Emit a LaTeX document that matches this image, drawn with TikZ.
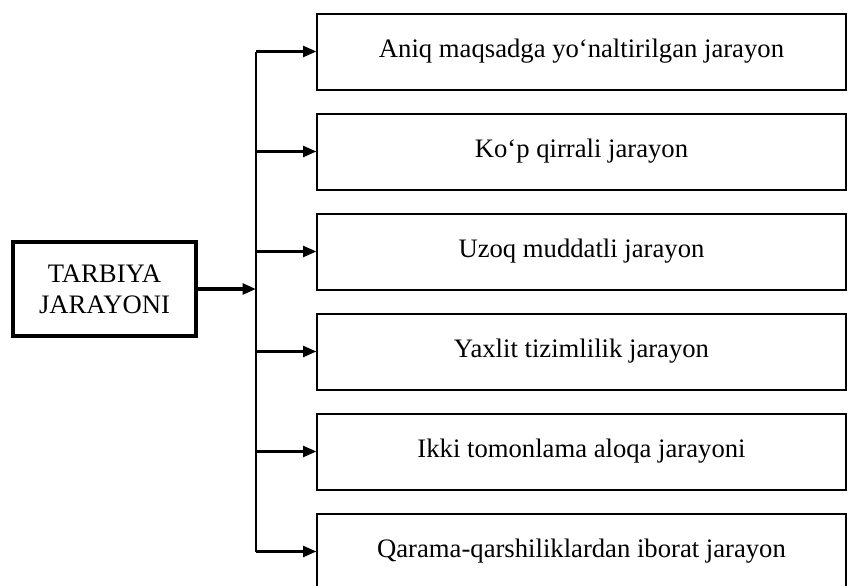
\documentclass[tikz,border=0pt]{standalone}
\usepackage{fontspec}
\setmainfont{Liberation Serif}
\usetikzlibrary{arrows.meta}
\tikzset{gbox/.style={
    rectangle,
    draw,
    line width=1.5pt,
    align=center,
    font=\fontsize{20}{23}\selectfont
  },
  itembox/.style={gbox,minimum width=396pt,minimum height=57pt},
  mainbox/.style={gbox,line width=3pt,minimum width=137pt,minimum height=71pt},
  branch/.style={line width=2.2pt,-{Triangle[length=10pt,width=8pt]}},
}

\begin{document}
\begin{tikzpicture}[x=0.75pt,y=-0.75pt]
  \useasboundingbox (0,0) rectangle (847,586);
  \matrix[row sep=16.5pt,inner sep=0pt,ampersand replacement=\&] (col) at (581.5,301.5) {
    \node [itembox] (b1) {Aniq maqsadga yo‘naltirilgan jarayon}; \\
    \node [itembox] (b2) {Ko‘p qirrali jarayon}; \\
    \node [itembox] (b3) {Uzoq muddatli jarayon}; \\
    \node [itembox] (b4) {Yaxlit tizimlilik jarayon}; \\
    \node [itembox] (b5) {Ikki tomonlama aloqa jarayoni}; \\
    \node [itembox] (b6) {Qarama-qarshiliklardan iborat jarayon}; \\
  };
  \node [mainbox] (main) at (104.5,289) {TARBIYA\\JARAYONI};
  \coordinate (jn) at (256,289);
  \draw[branch,line width=3pt] (main) -- (jn);
  \draw[line width=1.6pt] (b1.west -| jn) -- (b6.west -| jn);
  \draw[branch] (b1.west -| jn) -- (b1.west);
  \draw[branch] (b2.west -| jn) -- (b2.west);
  \draw[branch] (b3.west -| jn) -- (b3.west);
  \draw[branch] (b4.west -| jn) -- (b4.west);
  \draw[branch] (b5.west -| jn) -- (b5.west);
  \draw[branch] (b6.west -| jn) -- (b6.west);
\end{tikzpicture}
\end{document}
